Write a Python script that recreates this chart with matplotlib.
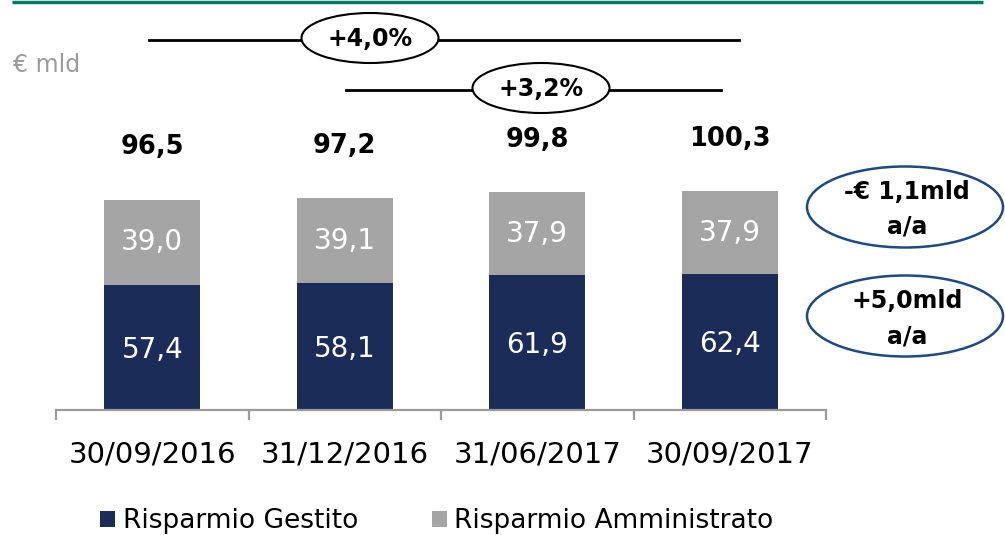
import matplotlib
matplotlib.use("Agg")
import matplotlib.pyplot as plt
from matplotlib.patches import Ellipse

# ---- data ----
categories = ["30/09/2016", "31/12/2016", "31/06/2017", "30/09/2017"]
gestito = [57.4, 58.1, 61.9, 62.4]
amministrato = [39.0, 39.1, 37.9, 37.9]
totals = [96.5, 97.2, 99.8, 100.3]
series_names = ["Risparmio Gestito", "Risparmio Amministrato"]
unit_label = "€ mld"
growth_labels = ["+4,0%", "+3,2%"]
yoy_labels = [["-€ 1,1mld", "a/a"], ["+5,0mld", "a/a"]]

NAVY = "#1B2C59"
GREY = "#A5A5A5"
AXIS = "#9A9A9A"
GREEN = "#007A5E"
ELL_EDGE = "#1F4A7C"

W, H = 1005, 535
fig = plt.figure(figsize=(W / 100, H / 100), dpi=100)
plt.rcParams['font.family'] = ['DejaVu Sans']

def fmt(v):
    return f"{v:.1f}".replace(".", ",")

# main axes: baseline at y=410px, x from 56 to 826 px
base_px = 410
ax = fig.add_axes([56 / W, (H - base_px) / H, (826 - 56) / W, base_px / H])
x = list(range(len(categories)))
ax.bar(x, gestito, width=0.5, color=NAVY, label=series_names[0], zorder=2)
ax.bar(x, amministrato, width=0.5, bottom=gestito, color=GREY, label=series_names[1], zorder=2)
ax.set_xlim(-0.5, 3.5)
ax.set_ylim(0, base_px / 2.18)

for i in x:
    ax.text(i, gestito[i] / 2 - 1, fmt(gestito[i]), ha="center", va="center",
            color="white", fontsize=20)
    ax.text(i, gestito[i] + amministrato[i] / 2, fmt(amministrato[i]), ha="center",
            va="center", color="white", fontsize=20)
    ax.text(i, totals[i] + 24, fmt(totals[i]), ha="center", va="center",
            color="black", fontsize=18.5, fontweight="bold")

for s in ["top", "right", "left"]:
    ax.spines[s].set_visible(False)
ax.spines["bottom"].set_color(AXIS)
ax.spines["bottom"].set_linewidth(1.6)
ax.set_yticks([])
ax.set_xticks(x)
ax.set_xticklabels(categories, fontsize=21, color="black")
ax.tick_params(axis="x", which="major", length=0, pad=22)
ax.set_xticks([-0.5, 0.5, 1.5, 2.5, 3.5], minor=True)
ax.tick_params(axis="x", which="minor", length=7.5, width=1.6, color=AXIS, direction="out")
ax.patch.set_visible(False)

# legend
handles, labels = ax.get_legend_handles_labels()
fig.legend(handles, labels, loc="center", bbox_to_anchor=(437 / W, (H - 521) / H),
           ncol=2, frameon=False, fontsize=19, handlelength=0.55, handleheight=0.55,
           handletextpad=0.3, columnspacing=2.8, borderaxespad=0, borderpad=0)

# overlay in pixel coordinates for annotations
ov = fig.add_axes([0, 0, 1, 1])
ov.set_xlim(0, W)
ov.set_ylim(H, 0)
ov.axis("off")

# green top rule
ov.plot([12, 983], [1.5, 1.5], color=GREEN, lw=2.5, solid_capstyle="butt")

# unit label
ov.text(13, 65, unit_label, ha="left", va="center", color="#9B9B9B", fontsize=17)

# growth brackets
ov.plot([149, 739], [40, 40], color="black", lw=2)
ov.add_patch(Ellipse((370, 38), 137, 50, facecolor="white", edgecolor="black", lw=1.5, zorder=3))
ov.text(370, 39, growth_labels[0], ha="center", va="center", fontsize=17,
        fontweight="bold", zorder=4)
ov.plot([346, 721], [90, 90], color="black", lw=2)
ov.add_patch(Ellipse((541, 88), 137, 50, facecolor="white", edgecolor="black", lw=1.5, zorder=3))
ov.text(541, 89, growth_labels[1], ha="center", va="center", fontsize=17,
        fontweight="bold", zorder=4)

# year-on-year ellipses
for (cy, lines) in zip([207, 316], yoy_labels):
    ov.add_patch(Ellipse((905, cy), 196, 81, facecolor="white", edgecolor=ELL_EDGE,
                         lw=1.8, zorder=3))
    ov.text(907, cy - 15, lines[0], ha="center", va="center", fontsize=17,
            fontweight="bold", zorder=4)
    ov.text(907, cy + 20, lines[1], ha="center", va="center", fontsize=17,
            fontweight="bold", zorder=4)

fig.savefig("out.png", dpi=100)
